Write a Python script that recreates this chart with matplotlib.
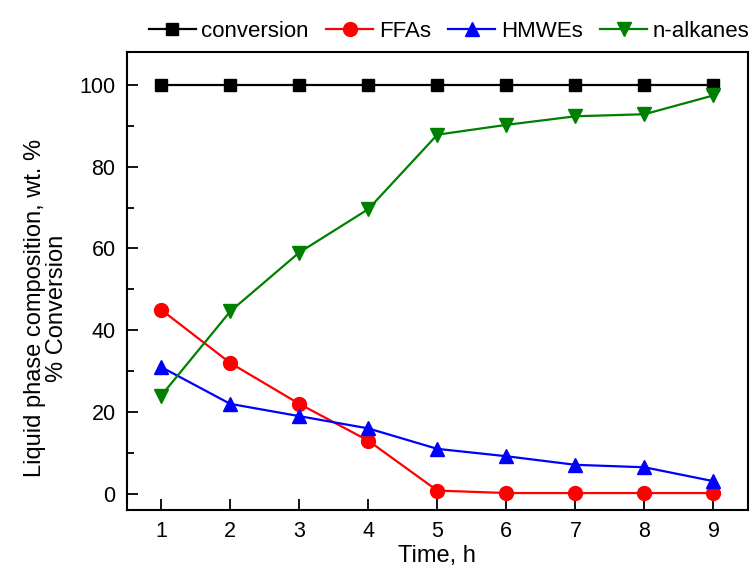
import matplotlib
matplotlib.use("Agg")
import matplotlib.pyplot as plt
from matplotlib.ticker import MultipleLocator

plt.rcParams['font.family'] = ['Liberation Sans', 'DejaVu Sans']

time_h = [1, 2, 3, 4, 5, 6, 7, 8, 9]
conversion = [100, 100, 100, 100, 100, 100, 100, 100, 100]
ffas = [45, 32, 22, 13, 0.8, 0.2, 0.2, 0.2, 0.2]
hmwes = [31, 22, 19, 16, 11, 9.2, 7.1, 6.5, 3.1]
n_alkanes = [24, 44.6, 59, 69.6, 87.8, 90.2, 92.3, 92.8, 97.4]

fig = plt.figure(figsize=(7.54, 5.72), dpi=100)
ax = fig.add_axes([0.168, 0.108, 0.824, 0.801])

ax.plot(time_h, conversion, color='black', marker='s', ms=9, lw=1.6, label='conversion')
ax.plot(time_h, ffas, color='#ff0000', marker='o', ms=10, lw=1.6, label='FFAs')
ax.plot(time_h, hmwes, color='#0000ff', marker='^', ms=10, lw=1.6, label='HMWEs')
ax.plot(time_h, n_alkanes, color='#008000', marker='v', ms=10, lw=1.6, label='n-alkanes')

ax.set_xlim(0.5, 9.5)
ax.set_ylim(-4, 108)
ax.xaxis.set_major_locator(MultipleLocator(1))
ax.yaxis.set_major_locator(MultipleLocator(20))
ax.yaxis.set_minor_locator(MultipleLocator(10))
ax.tick_params(axis='both', which='both', direction='in', labelsize=15.5,
               top=False, right=False, width=1.3)
ax.tick_params(which='major', length=8, pad=8)
ax.tick_params(which='minor', length=5)
for s in ax.spines.values():
    s.set_linewidth(1.5)

ax.set_xlabel('Time, h', fontsize=17, labelpad=2)
ax.set_ylabel('Liquid phase composition, wt. %\n% Conversion', fontsize=17,
              linespacing=1.0)
ax.yaxis.set_label_coords(-0.095, 0.441)

ax.legend(loc='lower right', bbox_to_anchor=(1.018, 1.0), ncol=4, frameon=False,
          fontsize=16, handlelength=2.1, handletextpad=0.25, columnspacing=0.8,
          borderaxespad=0.05)

fig.savefig('out.png', dpi=100)
